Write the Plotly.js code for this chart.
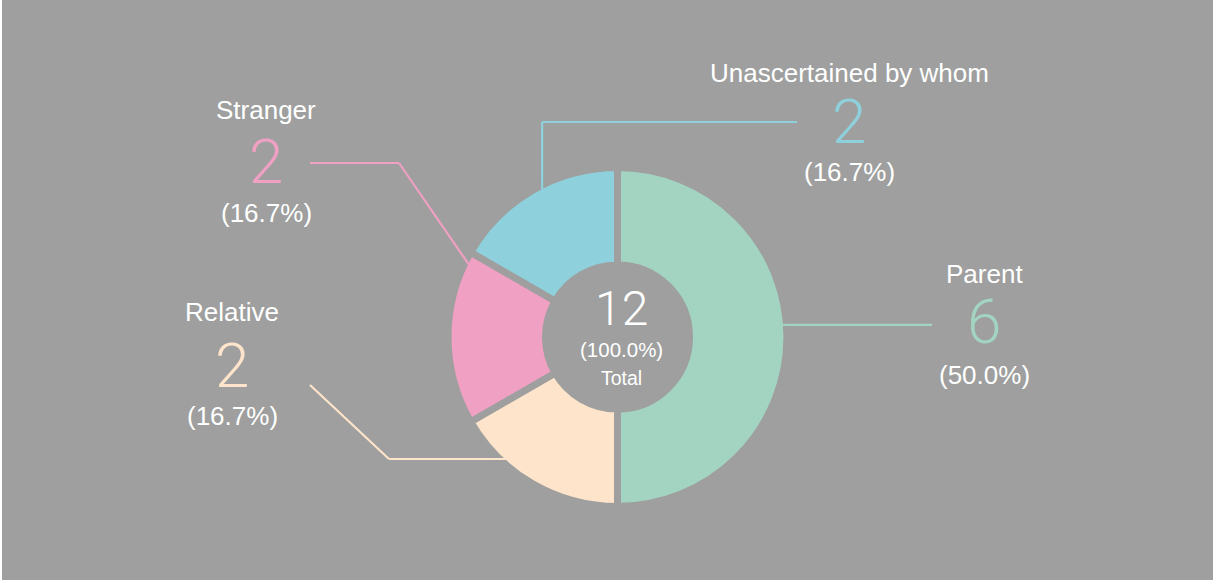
<!DOCTYPE html>
<html><head><meta charset="utf-8">
<script src="https://cdn.plot.ly/plotly-3.0.1.min.js"></script>
<style>html,body{margin:0;padding:0;background:#fff;overflow:hidden;} #chart{position:absolute;left:2px;top:0;width:1211px;height:580px;}</style>
</head><body><div id="chart"></div>
<script>
// ---- data ----
const categories = ["Parent", "Relative", "Stranger", "Unascertained by whom"];
const values = [6, 2, 2, 2];
const sliceColors = ["#a3d4c2", "#fde4ca", "#f0a0c3", "#8ed0db"];
const centerLabel = "Total";

// ---- layout config (page pixels) ----
const W = 1211, H = 580, OX = 2;
const BG = "#9e9f9e";
const CX = 617.5, CY = 337, R = 169.5, LINEW = 7, HOLE = 0.425;
const labelPos = [
  {x: 984, yName: 274, yNum: 321, yPct: 375},
  {x: 232, yName: 312, yNum: 365, yPct: 416},
  {x: 266, yName: 110, yNum: 161, yPct: 213},
  {x: 849, yName: 73,  yNum: 121, yPct: 172}
];
const anchorOffset = [-4.2, 12.5, 26, 2.9]; // deg from slice bisector

const px = X => (X - OX) / W;
const py = Y => 1 - Y / H;
const total = values.reduce((a, b) => a + b, 0);
const pct = v => "(" + (v / total * 100).toFixed(1) + "%)";

// slice bisector angles (clockwise from 12 o'clock)
const bis = [];
let acc = 0;
values.forEach(v => { bis.push((acc + v / 2) / total * 360); acc += v; });
function edgePt(i, rr) {
  const t = (bis[i] + anchorOffset[i]) * Math.PI / 180;
  return {x: CX + rr * Math.sin(t), y: CY - rr * Math.cos(t)};
}

const trace = {
  type: "pie",
  labels: categories,
  values: values,
  sort: false,
  direction: "clockwise",
  rotation: 0,
  hole: HOLE,
  textinfo: "none",
  hoverinfo: "label+value+percent",
  marker: {colors: sliceColors, line: {color: BG, width: LINEW}},
  domain: {x: [px(CX - R), px(CX + R)], y: [py(CY + R), py(CY - R)]},
  showlegend: false
};

const FONT = "Liberation Sans, Arial, Helvetica, sans-serif";
const NUMFONT = "Roboto, Liberation Sans, Arial, sans-serif";
const ann = [];
const shapes = [];
const lineSeg = (a, b, col) => shapes.push({
  type: "line", xref: "paper", yref: "paper", layer: "above",
  x0: px(a.x), y0: py(a.y), x1: px(b.x), y1: py(b.y),
  line: {color: col, width: 2.2}
});

categories.forEach((c, i) => {
  const p = labelPos[i];
  ann.push({text: c, x: px(p.x), y: py(p.yName), xref: "paper", yref: "paper",
    showarrow: false, xanchor: "center", yanchor: "middle",
    font: {family: FONT, size: 26, color: "#ffffff"}});
  ann.push({text: String(values[i]), x: px(p.x), y: py(p.yNum), xref: "paper", yref: "paper",
    showarrow: false, xanchor: "center", yanchor: "middle",
    font: {family: NUMFONT, size: 62, weight: 300, color: sliceColors[i]}});
  ann.push({text: pct(values[i]), x: px(p.x), y: py(p.yPct), xref: "paper", yref: "paper",
    showarrow: false, xanchor: "center", yanchor: "middle",
    font: {family: FONT, size: 26, color: "#ffffff"}});
});

// leader lines
const rIn = R - 4;
{ // Parent
  const s = edgePt(0, rIn); const col = sliceColors[0];
  lineSeg(s, {x: 932, y: s.y}, col);
}
{ // Relative
  const s = edgePt(1, rIn); const col = sliceColors[1];
  const e = {x: 389, y: s.y};
  lineSeg(s, e, col); lineSeg(e, {x: 310, y: 385}, col);
}
{ // Stranger
  const s = edgePt(2, rIn); const col = sliceColors[2];
  const e = {x: 399, y: 163};
  lineSeg(s, e, col); lineSeg(e, {x: 310, y: 163}, col);
}
{ // Unascertained
  const s = edgePt(3, rIn); const col = sliceColors[3];
  const e = {x: s.x, y: 122};
  lineSeg(s, e, col); lineSeg(e, {x: 797, y: 122}, col);
}

// center texts
ann.push({text: String(total), x: px(621), y: py(308), xref: "paper", yref: "paper", showarrow: false,
  xanchor: "center", yanchor: "middle", font: {family: NUMFONT, size: 48, weight: 300, color: "#ffffff"}});
ann.push({text: "(100.0%)", x: px(621), y: py(349), xref: "paper", yref: "paper", showarrow: false,
  xanchor: "center", yanchor: "middle", font: {family: FONT, size: 20.5, color: "#ffffff"}});
ann.push({text: centerLabel, x: px(621), y: py(378), xref: "paper", yref: "paper", showarrow: false,
  xanchor: "center", yanchor: "middle", font: {family: FONT, size: 19.5, color: "#ffffff"}});

const layout = {
  width: W, height: H,
  margin: {l: 0, r: 0, t: 0, b: 0},
  paper_bgcolor: BG, plot_bgcolor: BG,
  annotations: ann, shapes: shapes,
  showlegend: false
};
Plotly.newPlot("chart", [trace], layout, {displayModeBar: false, staticPlot: true});
</script></body></html>
